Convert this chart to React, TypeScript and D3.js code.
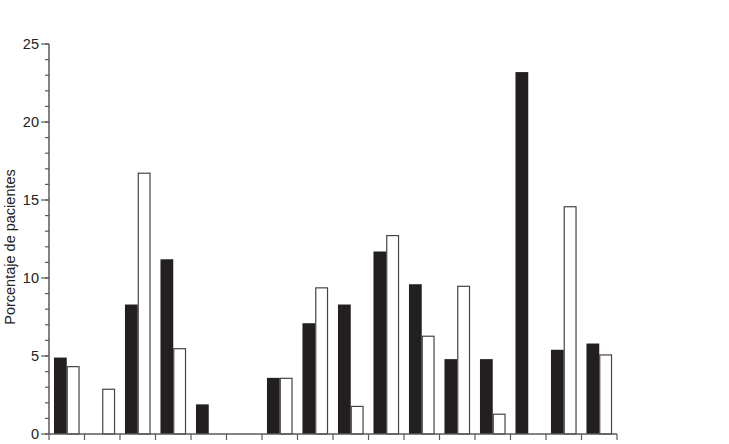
import React from "react";
import * as d3 from "d3";

const categories = ["1","2","3","4","5","6","7","8","9","10","11","12","13","14","15","16"];
const seriesA = [4.9, 0, 8.3, 11.2, 1.9, 0, 3.6, 7.1, 8.3, 11.7, 9.6, 4.8, 4.8, 23.2, 5.4, 5.8];
const seriesB = [4.35, 2.9, 16.75, 5.5, 0, 0, 3.6, 9.4, 1.8, 12.75, 6.3, 9.5, 1.3, 0, 14.6, 5.1];
const yMajorTicks = [0, 5, 10, 15, 20, 25];
const yMinorTicks = d3.range(0, 26, 1);

export default function App() {
  const W = 729, H = 444;
  const x0 = 49, x1 = 617, yTop = 44, yBot = 434;
  const x = d3.scaleBand<string>().domain(categories).range([x0, x1]).paddingInner(0).paddingOuter(0);
  const bw = x.bandwidth();
  const inner = d3.scaleBand<string>().domain(["a", "b"]).range([bw * 0.14, bw * 0.86]).padding(0);
  const y = d3.scaleLinear().domain([0, 25]).range([yBot, yTop]);
  const axisColor = "#5a5a5a";
  const boundaries = [...categories.map((c) => x(c) as number), x1];

  return (
    <svg width={W} height={H} style={{ position: "absolute", left: 0, top: 0, background: "#fff" }}
      fontFamily="'Liberation Sans', Arial, Helvetica, sans-serif">
      {categories.map((c, i) => (
        <g key={c}>
          {seriesA[i] > 0 && (
            <rect x={(x(c) as number) + (inner("a") as number)} y={y(seriesA[i])}
              width={inner.bandwidth()} height={y(0) - y(seriesA[i])} fill="#231f20" />
          )}
          {seriesB[i] > 0 && (
            <rect x={(x(c) as number) + (inner("b") as number) + 0.5} y={y(seriesB[i]) + 0.5}
              width={inner.bandwidth() - 1} height={y(0) - y(seriesB[i]) - 0.5}
              fill="#fff" stroke="#444" strokeWidth={1.2} />
          )}
        </g>
      ))}
      {/* y axis */}
      <line x1={x0} x2={x0} y1={yTop} y2={yBot} stroke={axisColor} strokeWidth={1.5} />
      {yMinorTicks.map((t) => (
        <line key={"m" + t} x1={x0 - 4} x2={x0} y1={y(t)} y2={y(t)} stroke={axisColor} strokeWidth={1.2} />
      ))}
      {yMajorTicks.map((t) => (
        <g key={"M" + t}>
          <line x1={x0 - 8} x2={x0} y1={y(t)} y2={y(t)} stroke={axisColor} strokeWidth={1.2} />
          <text x={x0 - 10} y={y(t)} dy="0.35em" textAnchor="end" fontSize={14.5} fill="#222">{t}</text>
        </g>
      ))}
      {/* x axis */}
      <line x1={x0} x2={x1} y1={yBot} y2={yBot} stroke={axisColor} strokeWidth={1.5} />
      {boundaries.map((b, i) => (
        <line key={"x" + i} x1={b} x2={b} y1={yBot} y2={yBot + 6} stroke={axisColor} strokeWidth={1.2} />
      ))}
      <text transform={`translate(15,${(yTop + yBot) / 2 + 8}) rotate(-90)`} textAnchor="middle"
        fontSize={14.5} fill="#222">Porcentaje de pacientes</text>
    </svg>
  );
}
